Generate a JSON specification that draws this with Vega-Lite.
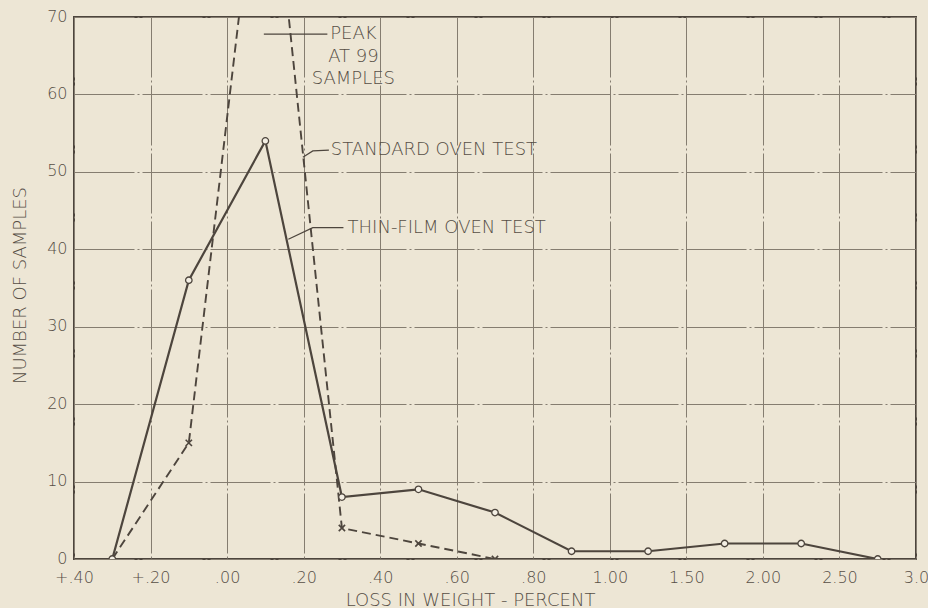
{
  "$schema": "https://vega.github.io/schema/vega-lite/v6.json",
  "width": 842,
  "height": 542,
  "autosize": {"type": "none"},
  "padding": {"left": 74, "top": 17, "right": 12, "bottom": 49},
  "background": "#ede6d5",
  "config": {
    "font": "DejaVu Sans",
    "view": {"stroke": "#4d453d", "strokeWidth": 2},
    "axis": {
      "domain": false,
      "ticks": false,
      "grid": true,
      "gridColor": "#857d70",
      "gridWidth": 1,
      "gridDash": [60, 3, 2, 3],
      "labelColor": "#564e45",
      "labelFont": "DejaVu Sans",
      "labelFontSize": 16,
      "labelFontWeight": 200,
      "labelPadding": 7,
      "titleColor": "#564e45",
      "titleFont": "DejaVu Sans",
      "titleFontSize": 18,
      "titleFontWeight": 200
    }
  },
  "datasets": {
    "series": [
      {"test": "thin", "idx": 0.5, "count": 0},
      {"test": "thin", "idx": 1.5, "count": 36},
      {"test": "thin", "idx": 2.5, "count": 54},
      {"test": "thin", "idx": 3.5, "count": 8},
      {"test": "thin", "idx": 4.5, "count": 9},
      {"test": "thin", "idx": 5.5, "count": 6},
      {"test": "thin", "idx": 6.5, "count": 1},
      {"test": "thin", "idx": 7.5, "count": 1},
      {"test": "thin", "idx": 8.5, "count": 2},
      {"test": "thin", "idx": 9.5, "count": 2},
      {"test": "thin", "idx": 10.5, "count": 0},
      {"test": "standard", "idx": 0.5, "count": 0},
      {"test": "standard", "idx": 1.5, "count": 15},
      {"test": "standard", "idx": 2.5, "count": 99},
      {"test": "standard", "idx": 3.5, "count": 4},
      {"test": "standard", "idx": 4.5, "count": 2},
      {"test": "standard", "idx": 5.5, "count": 0}
    ],
    "notes": [
      {"label": "PEAK", "idx": 3.65, "count": 67.8, "anchor": "center"},
      {"label": "AT 99", "idx": 3.65, "count": 64.8, "anchor": "center"},
      {"label": "SAMPLES", "idx": 3.65, "count": 62.0, "anchor": "center"},
      {"label": "STANDARD OVEN TEST", "idx": 3.355, "count": 52.8, "anchor": "left"},
      {"label": "THIN-FILM OVEN TEST", "idx": 3.574, "count": 42.8, "anchor": "left"}
    ],
    "leaders": [
      {"lead": "peak", "ord": 1, "idx": 2.48, "count": 67.8},
      {"lead": "peak", "ord": 2, "idx": 3.31, "count": 67.8},
      {"lead": "standard", "ord": 1, "idx": 2.99, "count": 51.9},
      {"lead": "standard", "ord": 2, "idx": 3.12, "count": 52.7},
      {"lead": "standard", "ord": 3, "idx": 3.33, "count": 52.8},
      {"lead": "thin", "ord": 1, "idx": 2.8, "count": 41.3},
      {"lead": "thin", "ord": 2, "idx": 3.12, "count": 42.8},
      {"lead": "thin", "ord": 3, "idx": 3.52, "count": 42.8}
    ]
  },
  "encoding": {
    "x": {
      "field": "idx",
      "type": "quantitative",
      "scale": {"domain": [0, 11], "nice": false, "zero": false},
      "axis": {
        "values": [0, 1, 2, 3, 4, 5, 6, 7, 8, 9, 10, 11],
        "labelExpr": "['+.40', '+.20', '.00', '.20', '.40', '.60', '.80', '1.00', '1.50', '2.00', '2.50', '3.0'][datum.value]",
        "labelBaseline": "top",
        "labelPadding": 10,
        "labelOverlap": false,
        "labelFlush": false,
        "labelBound": false,
        "title": "LOSS IN WEIGHT - PERCENT",
        "titleX": 396,
        "titleY": 46,
        "titleAlign": "center",
        "titleBaseline": "alphabetic"
      }
    },
    "y": {
      "field": "count",
      "type": "quantitative",
      "scale": {"domain": [0, 70], "nice": false},
      "axis": {
        "values": [0, 10, 20, 30, 40, 50, 60, 70],
        "labelBaseline": "middle",
        "labelOffset": -1,
        "title": "NUMBER OF SAMPLES",
        "titleX": -54,
        "titleY": 268,
        "titleAngle": -90,
        "titleAlign": "center",
        "titleBaseline": "middle"
      }
    }
  },
  "layer": [
    {
      "data": {"name": "series"},
      "transform": [{"filter": "datum.test === 'standard'"}],
      "mark": {"type": "line", "clip": true, "color": "#4d453d", "strokeWidth": 1.9, "strokeDash": [9, 5]},
      "encoding": {"order": {"field": "idx", "type": "quantitative"}}
    },
    {
      "data": {"name": "series"},
      "transform": [{"filter": "datum.test === 'thin'"}],
      "mark": {"type": "line", "clip": true, "color": "#4d453d", "strokeWidth": 2.2},
      "encoding": {"order": {"field": "idx", "type": "quantitative"}}
    },
    {
      "data": {"name": "series"},
      "transform": [{"filter": "datum.test === 'standard' && datum.idx > 1"}],
      "mark": {"type": "point", "clip": true, "shape": "M-1,-1L1,1M-1,1L1,-1", "size": 40, "filled": false, "stroke": "#4d453d", "strokeWidth": 1.6, "opacity": 1}
    },
    {
      "data": {"name": "series"},
      "transform": [{"filter": "datum.test === 'thin'"}],
      "mark": {"type": "point", "clip": true, "shape": "circle", "size": 42, "filled": true, "fill": "#f4efe4", "stroke": "#4d453d", "strokeWidth": 1.3, "opacity": 1}
    },
    {
      "data": {"name": "leaders"},
      "mark": {"type": "line", "color": "#4d453d", "strokeWidth": 1.2},
      "encoding": {
        "detail": {"field": "lead"},
        "order": {"field": "ord", "type": "quantitative"}
      }
    },
    {
      "data": {"name": "notes"},
      "transform": [{"filter": "datum.anchor === 'center'"}],
      "mark": {"type": "text", "align": "center", "baseline": "middle", "font": "DejaVu Sans", "fontSize": 18, "fontWeight": 200, "color": "#564e45"},
      "encoding": {"text": {"field": "label"}}
    },
    {
      "data": {"name": "notes"},
      "transform": [{"filter": "datum.anchor === 'left'"}],
      "mark": {"type": "text", "align": "left", "baseline": "middle", "font": "DejaVu Sans", "fontSize": 18, "fontWeight": 200, "color": "#564e45"},
      "encoding": {"text": {"field": "label"}}
    }
  ]
}
